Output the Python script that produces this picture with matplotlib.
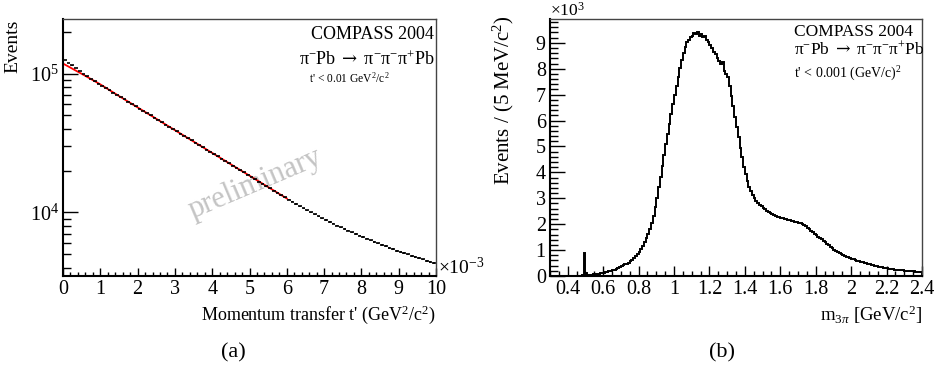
import numpy as np
import matplotlib
matplotlib.use('Agg')
import matplotlib.pyplot as plt
from matplotlib.ticker import MultipleLocator, FixedLocator, FuncFormatter, NullFormatter

plt.rcParams['font.family'] = ['Liberation Serif', 'DejaVu Serif']
plt.rcParams['mathtext.fontset'] = 'custom'
plt.rcParams['mathtext.rm'] = 'Liberation Serif'
plt.rcParams['mathtext.it'] = 'Liberation Serif:italic'
plt.rcParams['mathtext.bf'] = 'Liberation Serif:bold'
plt.rcParams['mathtext.sf'] = 'DejaVu Serif'

# ---- (a) t' spectrum, 0.1e-3 GeV^2/c^2 bins, t in units of 1e-3
t_edges = np.round(np.arange(0, 10.01, 0.1), 2)
t_counts = [125300, 119700, 114300, 109100, 104200, 99540, 95280, 91410, 87900, 84720,
            81660, 78700, 75680, 72950, 70150, 67610, 65160, 62660, 60390, 58080,
            55920, 53850, 51850, 49930, 48080, 46290, 44580, 42920, 41330, 39800,
            38320, 36900, 35530, 34210, 32940, 31720, 30540, 29410, 28320, 27270,
            26260, 25280, 24340, 23440, 22570, 21730, 20930, 20150, 19400, 18680,
            17990, 17320, 16680, 16060, 15460, 14890, 14340, 13800, 13290, 12800,
            12360, 11910, 11480, 11090, 10720, 10350, 10000, 9683, 9376, 9078,
            8790, 8531, 8279, 8035, 7798, 7586, 7379, 7178, 6982, 6792,
            6622, 6457, 6295, 6138, 5984, 5834, 5702, 5559, 5433, 5297,
            5188, 5082, 4977, 4875, 4775, 4677, 4581, 4487, 4395, 4305]
fit_t = [0, 0.5, 1.0, 1.5, 2.0, 2.5, 3.0, 3.5, 4.0, 4.5, 5.0, 5.5, 6.0]
fit_vals = [118000, 99500, 83560, 68870, 57020, 47210, 39080, 32360, 26790, 22180, 18370, 15210, 12590]

# ---- (b) 3pi mass spectrum, 10 MeV bins, counts in units of 1e3
m_edges = np.round(np.arange(0.30, 2.4001, 0.01), 2)
m_counts = [0, 0, 0, 0, 0, 0, 0, 0, 0, 0, 0, 0, 0, 0, 0, 0, 0, 0,
            0.03, 0.90, 0.10, 0.03, 0.04, 0.05, 0.06, 0.07, 0.08, 0.09, 0.10, 0.11,
            0.13, 0.14, 0.16, 0.18, 0.20, 0.22, 0.25, 0.28, 0.31, 0.34,
            0.37, 0.41, 0.45, 0.48, 0.52, 0.56, 0.62, 0.69, 0.77, 0.85,
            0.94, 1.05, 1.17, 1.31, 1.46, 1.63, 1.83, 2.06, 2.33, 2.66,
            3.02, 3.42, 3.83, 4.25, 4.68, 5.10, 5.50, 5.88, 6.25, 6.62,
            6.98, 7.33, 7.68, 8.02, 8.35, 8.62, 8.85, 9.02, 9.10, 9.22,
            9.28, 9.38, 9.33, 9.40, 9.28, 9.34, 9.22, 9.26, 9.10, 9.02,
            8.92, 8.80, 8.66, 8.55, 8.42, 8.30, 8.18, 8.26, 7.90, 7.80,
            7.68, 7.35, 6.95, 6.55, 6.15, 5.75, 5.35, 4.95, 4.58, 4.22,
            3.92, 3.66, 3.45, 3.28, 3.12, 3.00, 2.90, 2.82, 2.75, 2.69,
            2.63, 2.57, 2.52, 2.47, 2.42, 2.38, 2.34, 2.31, 2.28, 2.26,
            2.24, 2.22, 2.21, 2.19, 2.17, 2.15, 2.13, 2.11, 2.09, 2.07,
            2.05, 2.03, 2.00, 1.97, 1.92, 1.87, 1.81, 1.75, 1.69, 1.63,
            1.57, 1.52, 1.46, 1.41, 1.35, 1.30, 1.24, 1.18, 1.12, 1.07,
            1.02, 0.97, 0.93, 0.89, 0.85, 0.81, 0.78, 0.75, 0.72, 0.69,
            0.66, 0.64, 0.61, 0.59, 0.57, 0.55, 0.53, 0.51, 0.49, 0.47,
            0.45, 0.43, 0.41, 0.39, 0.37, 0.35, 0.34, 0.33, 0.32, 0.30,
            0.29, 0.28, 0.27, 0.26, 0.25, 0.25, 0.24, 0.23, 0.23, 0.22,
            0.21, 0.21, 0.20, 0.19, 0.19, 0.18, 0.17, 0.16, 0.15, 0.14]

fig = plt.figure(figsize=(9.36, 3.74), dpi=100)
ax1 = fig.add_axes([63/936, 1-276/374, 373/936, 257/374])
ax2 = fig.add_axes([550/936, 1-276/374, 372/936, 257/374])

TICK_FS = 14.5
REACTION = r'$\mathrm{\pi^{-}Pb}\ \mathsf{\rightarrow}\ \mathrm{\pi^{-}\pi^{-}\pi^{+}Pb}$'


def style_axes(ax):
    for s in ['left', 'bottom']:
        ax.spines[s].set_linewidth(1.5)
    for s in ['top', 'right']:
        ax.spines[s].set_linewidth(1.0)
        ax.spines[s].set_color('#444444')
    ax.tick_params(which='both', direction='in', top=False, right=False,
                   labelsize=TICK_FS, width=1.0, pad=3)


# ---- panel (a)
t_counts = np.array(t_counts, dtype=float)
t_cent = 0.5*(t_edges[:-1]+t_edges[1:])
ax1.errorbar(t_cent, t_counts, xerr=0.5*(t_edges[1]-t_edges[0]),
             yerr=np.sqrt(t_counts), fmt='none', ecolor='black', elinewidth=1.2)
ax1.plot(fit_t, fit_vals, color='red', lw=1.3, zorder=1)
ax1.set_yscale('log')
ax1.set_xlim(0, 10)
ax1.set_ylim(3.48e3, 2.47e5)
style_axes(ax1)
ax1.xaxis.set_major_locator(MultipleLocator(1))
ax1.xaxis.set_minor_locator(MultipleLocator(0.2))
ax1.tick_params(axis='x', which='major', length=6)
ax1.tick_params(axis='x', which='minor', length=3)
ax1.tick_params(axis='y', which='major', length=11)
ax1.tick_params(axis='y', which='minor', length=5.5)
ax1.yaxis.set_major_locator(FixedLocator([1e4, 1e5]))
ax1.yaxis.set_major_formatter(FuncFormatter(lambda v, p: r'$10^{%d}$' % round(np.log10(v))))
ax1.yaxis.set_minor_locator(FixedLocator([4e3, 5e3, 6e3, 7e3, 8e3, 9e3, 2e4, 3e4, 4e4, 5e4,
                                          6e4, 7e4, 8e4, 9e4, 2e5]))
ax1.yaxis.set_minor_formatter(NullFormatter())
fig.text(13/936, 1-20/374, 'Events', rotation=90, fontsize=14, ha='center', va='top')
ax1.set_xlabel(r"Momentum transfer t' (GeV$^{2}$/c$^{2}$)", fontsize=13, loc='right', labelpad=3)
ax1.text(1.005, 0.035, r'$\times$10$^{-3}$', transform=ax1.transAxes, fontsize=14,
         ha='left', va='center')
ax1.text(0.995, 0.922, 'COMPASS 2004', transform=ax1.transAxes, fontsize=13, ha='right')
ax1.text(0.995, 0.821, REACTION, transform=ax1.transAxes, fontsize=13, ha='right')
ax1.text(0.66, 0.751, r"t' < 0.01 GeV$^{2}$/c$^{2}$", transform=ax1.transAxes, fontsize=8.3)
ax1.text(0.515, 0.36, 'preliminary', transform=ax1.transAxes, fontsize=22, color='#c4c4c4',
         rotation=23, ha='center', va='center', zorder=0)
fig.text(233/936, 1-353/374, '(a)', fontsize=16, ha='center', va='center')

# ---- panel (b)
ax2.stairs(m_counts, m_edges, color='black', lw=1.4)
ax2.set_xlim(0.3, 2.4)
ax2.set_ylim(0, 9.92)
style_axes(ax2)
ax2.xaxis.set_major_locator(MultipleLocator(0.2))
ax2.xaxis.set_minor_locator(MultipleLocator(0.05))
ax2.xaxis.set_major_formatter(FuncFormatter(lambda v, p: '%g' % round(v, 2)))
ax2.yaxis.set_major_locator(MultipleLocator(1))
ax2.yaxis.set_minor_locator(MultipleLocator(0.2))
ax2.tick_params(axis='x', which='major', length=7)
ax2.tick_params(axis='x', which='minor', length=3.5)
ax2.tick_params(axis='y', which='major', length=11)
ax2.tick_params(axis='y', which='minor', length=5.5)
fig.text(503/936, 1-15/374, r'Events / (5 MeV/c$^{2}$)', rotation=90, fontsize=15,
         ha='center', va='top')
ax2.set_xlabel(r'm$_{3\pi}$ [GeV/c$^{2}$]', fontsize=13.5, loc='right', labelpad=3)
fig.text(550/936, 1-16/374, r'$\times$10$^{3}$', fontsize=12.5, ha='left', va='baseline')
ax2.text(0.655, 0.935, 'COMPASS 2004', transform=ax2.transAxes, fontsize=12.5)
ax2.text(0.655, 0.862, REACTION, transform=ax2.transAxes, fontsize=12.5)
ax2.text(0.655, 0.77, r"t' < 0.001 (GeV/c)$^{2}$", transform=ax2.transAxes, fontsize=10)
fig.text(722/936, 1-353/374, '(b)', fontsize=16, ha='center', va='center')

fig.savefig('out.png', dpi=100)
